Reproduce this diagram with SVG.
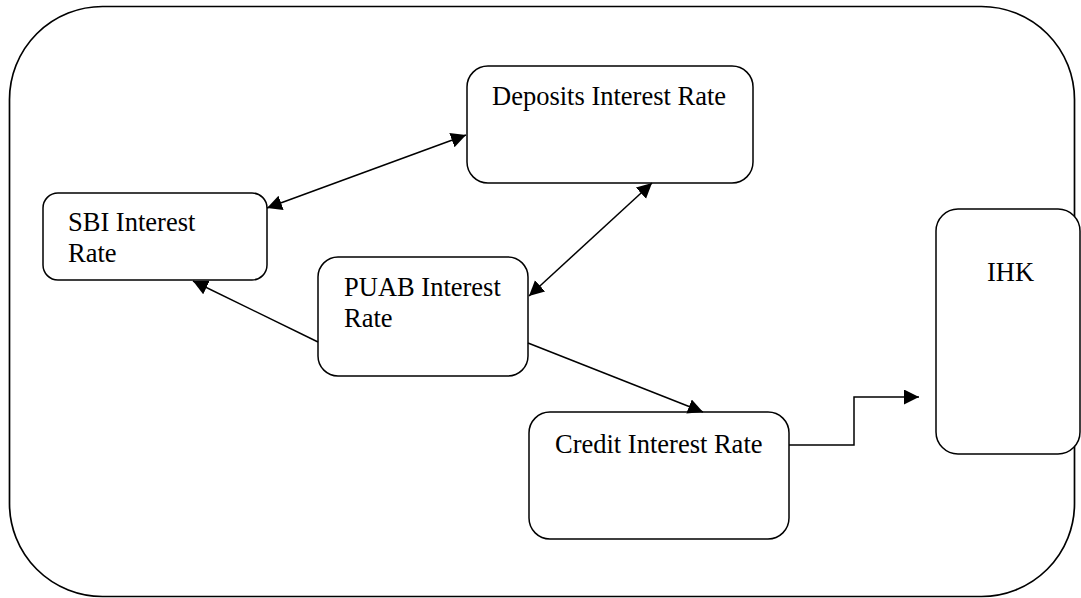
<svg xmlns="http://www.w3.org/2000/svg" width="1081" height="598" viewBox="0 0 1081 598">
<style>
.box{fill:#fff;stroke:#000;stroke-width:1.5}
.lbl{font-family:"Liberation Serif","Times New Roman",serif;font-size:26.5px;fill:#000}
.con{fill:none;stroke:#000;stroke-width:1.5}
</style>
<defs>
<marker id="ah" markerUnits="userSpaceOnUse" markerWidth="17" markerHeight="16" refX="15" refY="7.5" orient="auto-start-reverse" viewBox="0 0 17 16">
<path d="M0,0 L15,7.5 L0,15 Z" fill="#000"/>
</marker>
</defs>
<rect x="9.5" y="6.5" width="1065" height="590" rx="93" ry="93" fill="#fff" stroke="#000" stroke-width="1.7"/>
<g id="deposits"><rect class="box" x="467" y="66" width="286" height="117" rx="21"/><text class="lbl" x="492" y="105">Deposits Interest Rate</text></g>
<g id="sbi"><rect class="box" x="43" y="193" width="224" height="87" rx="15"/><text class="lbl" x="68" y="231">SBI Interest</text><text class="lbl" x="68" y="262">Rate</text></g>
<g id="puab"><rect class="box" x="318" y="257" width="210" height="119" rx="20"/><text class="lbl" x="344" y="296">PUAB Interest</text><text class="lbl" x="344" y="327">Rate</text></g>
<g id="credit"><rect class="box" x="529" y="412" width="260" height="127" rx="21"/><text class="lbl" x="555" y="453">Credit Interest Rate</text></g>
<g id="ihk"><rect class="box" x="936" y="209" width="144" height="245" rx="22"/><text class="lbl" x="987" y="281">IHK</text></g>
<g id="connectors">
<line class="con" x1="267" y1="208" x2="466" y2="135" marker-start="url(#ah)" marker-end="url(#ah)"/>
<line class="con" x1="652" y1="183" x2="529" y2="296" marker-start="url(#ah)" marker-end="url(#ah)"/>
<line class="con" x1="318" y1="342" x2="193" y2="281" marker-end="url(#ah)"/>
<line class="con" x1="528" y1="343" x2="703" y2="412" marker-end="url(#ah)"/>
<polyline class="con" points="789,445 854,445 854,397 919,397" marker-end="url(#ah)"/>
</g>
</svg>
